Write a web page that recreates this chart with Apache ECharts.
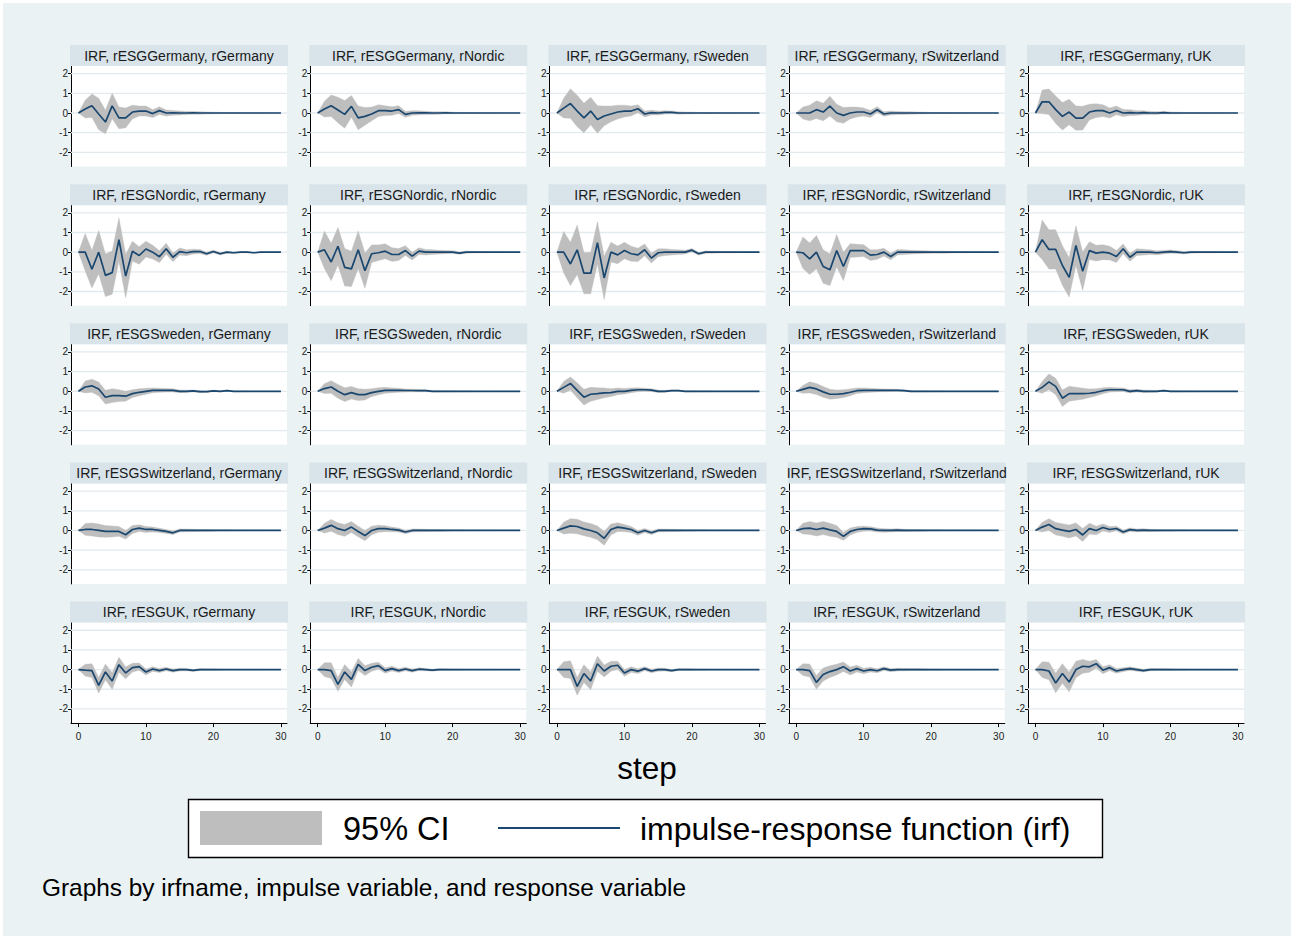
<!DOCTYPE html>
<html>
<head>
<meta charset="utf-8">
<script src="https://cdn.jsdelivr.net/npm/echarts@6/dist/echarts.min.js"></script>
<style>
  html, body { margin: 0; padding: 0; background: #ffffff; }
  #wrap { position: absolute; left: 0; top: 0; width: 1294px; height: 938px; background: #ffffff; }
  #bg { position: absolute; left: 3px; top: 3px; width: 1288px; height: 933px; background: #eaf2f3; }
  #chart { position: absolute; left: 0; top: 0; width: 1294px; height: 938px; }
</style>
</head>
<body>
<div id="wrap"><div id="bg"></div><div id="chart"></div></div>
<script>
// ---------------- data ----------------
const impulses = ['rESGGermany', 'rESGNordic', 'rESGSweden', 'rESGSwitzerland', 'rESGUK'];
const responses = ['rGermany', 'rNordic', 'rSweden', 'rSwitzerland', 'rUK'];
const steps = [0,1,2,3,4,5,6,7,8,9,10,11,12,13,14,15,16,17,18,19,20,21,22,23,24,25,26,27,28,29,30];
const xTickLabels = [0, 10, 20, 30];
const yTickLabels = [-2, -1, 0, 1, 2];
const irfName = 'IRF';
const legendCI = '95% CI';
const legendIRF = 'impulse-response function (irf)';
const xAxisTitle = 'step';
const noteText = 'Graphs by irfname, impulse variable, and response variable';

// impulse rESGGermany
const irf_Germany_Germany = [0,0.2,0.37,-0.05,-0.46,0.36,-0.25,-0.25,0.05,0.1,0.1,-0.03,0.12,0,0.01,0,0,0.01,0,0,0,0,0,0,0,0,0,0,0,0,0];
const ci_Germany_Germany  = [0,0.45,0.6,0.8,0.6,0.65,0.55,0.5,0.35,0.25,0.25,0.2,0.2,0.15,0.12,0.1,0.08,0.07,0.06,0.05,0.04,0.03,0.02,0.02,0.01,0.01,0.01,0.01,0,0,0];
const irf_Germany_Nordic = [0,0.2,0.37,0.15,-0.07,0.34,-0.25,-0.17,-0.05,0.12,0.12,0.1,0.17,-0.07,0,0.01,0.01,0,0,0.01,0,0,0,0,0,0,0,0,0,0,0];
const ci_Germany_Nordic  = [0,0.4,0.55,0.65,0.7,0.55,0.6,0.45,0.35,0.3,0.25,0.22,0.2,0.15,0.12,0.1,0.08,0.07,0.06,0.05,0.04,0.03,0.02,0.02,0.01,0.01,0.01,0,0,0,0];
const irf_Germany_Sweden = [0,0.25,0.48,0.1,-0.25,0.1,-0.33,-0.15,-0.05,0.05,0.1,0.1,0.22,-0.05,0.02,0,0.03,0.03,0,0,0,0,0,0,0,0,0,0,0,0,0];
const ci_Germany_Sweden  = [0,0.5,0.75,0.8,0.75,0.7,0.7,0.5,0.4,0.35,0.3,0.25,0.2,0.15,0.12,0.1,0.08,0.07,0.06,0.05,0.04,0.03,0.02,0.02,0.01,0.01,0.01,0,0,0,0];
const irf_Germany_Switzerland = [0,0,0,0.17,0.05,0.35,0,-0.12,0,0.05,0.05,-0.05,0.17,-0.05,0,0,0,0,0,0,0,0,0,0,0,0,0,0,0,0,0];
const ci_Germany_Switzerland  = [0,0.3,0.4,0.45,0.45,0.5,0.45,0.4,0.3,0.25,0.2,0.18,0.15,0.12,0.1,0.08,0.07,0.06,0.05,0.04,0.03,0.02,0.02,0.01,0.01,0.01,0,0,0,0,0];
const irf_Germany_UK = [0,0.57,0.57,0.17,-0.17,0.05,-0.26,-0.26,0.05,0.12,0.12,0,0.13,0,0.02,0,0.02,0,0,0.02,0,0,0,0,0,0,0,0,0,0,0];
const ci_Germany_UK  = [0,0.6,0.65,0.7,0.7,0.65,0.62,0.6,0.4,0.35,0.3,0.25,0.22,0.18,0.15,0.12,0.1,0.08,0.07,0.06,0.05,0.04,0.03,0.02,0.02,0.01,0.01,0.01,0,0,0];

// impulse rESGNordic
const irf_Nordic_Germany = [0,0,-0.87,0,-1.18,-1.04,0.64,-1.22,0.05,-0.17,0.16,0,-0.23,0.17,-0.26,0.03,-0.03,0.03,0.03,-0.08,0.03,-0.08,0,-0.03,0,0,-0.03,0,0,0,0];
const ci_Nordic_Germany  = [0,0.95,0.95,1.1,1.08,1.1,1.1,1.1,0.5,0.45,0.4,0.35,0.3,0.28,0.22,0.18,0.15,0.12,0.1,0.08,0.07,0.06,0.05,0.04,0.03,0.03,0.02,0.02,0.01,0.01,0.01];
const irf_Nordic_Nordic = [0,0.12,-0.5,0.3,-0.77,-0.85,0.12,-0.94,-0.08,-0.03,0.05,-0.12,-0.12,0.08,-0.2,0.05,0,0,0,0,0,-0.05,0,0,0,0,0,0,0,0,0];
const ci_Nordic_Nordic  = [0,0.95,0.95,0.95,0.95,0.9,0.95,0.9,0.45,0.4,0.38,0.35,0.3,0.25,0.2,0.17,0.14,0.12,0.1,0.08,0.07,0.06,0.05,0.04,0.03,0.03,0.02,0.02,0.01,0.01,0.01];
const irf_Nordic_Sweden = [0,0,-0.6,0.12,-1.07,-1.07,0.48,-1.31,0,-0.14,0.08,-0.08,-0.14,0.12,-0.3,-0.03,0,0,0,0,0.1,-0.08,0,0,0,0,0,0,0,0,0];
const ci_Nordic_Sweden  = [0,1.05,1.1,1.25,1.05,1.05,1.07,1.1,0.5,0.45,0.42,0.38,0.34,0.3,0.25,0.2,0.17,0.14,0.12,0.1,0.08,0.07,0.06,0.05,0.04,0.03,0.03,0.02,0.02,0.01,0.01];
const irf_Nordic_Switzerland = [0,-0.03,-0.34,0,-0.73,-0.9,0.08,-0.73,0.08,0.08,0.08,-0.15,-0.12,0,-0.22,0,0,0,0,0,0,0,0,0,0,0,0,0,0,0,0];
const ci_Nordic_Switzerland  = [0,0.8,0.8,0.85,0.85,0.8,0.82,0.72,0.35,0.32,0.3,0.27,0.24,0.2,0.17,0.14,0.12,0.1,0.08,0.07,0.06,0.05,0.05,0.04,0.03,0.03,0.02,0.02,0.01,0.01,0.01];
const irf_Nordic_UK = [0,0.63,0.14,0.14,-0.68,-1.28,0.34,-0.97,0.08,-0.05,0,-0.05,-0.22,0.17,-0.26,0,0,0,-0.03,0,0.03,0,-0.03,0,0,0,0,0,0,0,0];
const ci_Nordic_UK  = [0,1.0,1.0,1.0,1.0,1.0,1.0,0.98,0.45,0.4,0.38,0.35,0.3,0.25,0.2,0.17,0.15,0.12,0.1,0.09,0.08,0.07,0.06,0.05,0.04,0.03,0.03,0.02,0.02,0.01,0.01];

// impulse rESGSweden
const irf_Sweden_Germany = [0,0.22,0.28,0.12,-0.3,-0.22,-0.22,-0.25,-0.12,-0.05,0,0.05,0.05,0.05,0.05,0,0,0.02,-0.02,-0.02,0.02,0,0.03,0,0,0,0,0,0,0,0];
const ci_Sweden_Germany  = [0,0.3,0.33,0.35,0.35,0.35,0.3,0.25,0.2,0.18,0.15,0.12,0.1,0.09,0.08,0.07,0.06,0.05,0.05,0.04,0.04,0.03,0.03,0.02,0.02,0.01,0.01,0.01,0,0,0];
const irf_Sweden_Nordic = [0,0.14,0.22,0,-0.17,-0.07,-0.17,-0.17,-0.07,0,0.05,0.05,0.05,0.04,0.04,0.03,0.03,0,0,0,0,0,0,0,0,0,0,0,0,0,0];
const ci_Sweden_Nordic  = [0,0.25,0.32,0.35,0.35,0.32,0.3,0.27,0.2,0.18,0.15,0.12,0.1,0.08,0.07,0.06,0.05,0.04,0.04,0.03,0.03,0.02,0.02,0.01,0.01,0.01,0,0,0,0,0];
const irf_Sweden_Sweden = [0,0.2,0.4,0.05,-0.3,-0.15,-0.12,-0.08,-0.07,0,0,0.05,0.08,0.08,0.06,0,0,0.03,0.03,0,0,0,0,0,0,0,0,0,0,0,0];
const ci_Sweden_Sweden  = [0,0.3,0.33,0.38,0.4,0.35,0.3,0.25,0.2,0.17,0.14,0.12,0.1,0.08,0.07,0.06,0.05,0.04,0.04,0.03,0.03,0.02,0.02,0.01,0.01,0.01,0,0,0,0,0];
const irf_Sweden_Switzerland = [0,0.1,0.2,0.12,-0.03,-0.15,-0.15,-0.12,-0.05,0.03,0.05,0.05,0.05,0.05,0.05,0.05,0.03,0,0,0,0,0,0,0,0,0,0,0,0,0,0];
const ci_Sweden_Switzerland  = [0,0.2,0.28,0.28,0.27,0.25,0.22,0.2,0.17,0.14,0.12,0.1,0.08,0.07,0.06,0.05,0.04,0.04,0.03,0.03,0.02,0.02,0.01,0.01,0.01,0,0,0,0,0,0];
const irf_Sweden_UK = [0,0.2,0.48,0.25,-0.35,-0.12,-0.12,-0.12,-0.1,-0.05,0.03,0.08,0.08,0.08,0,0.03,0,0,0,0.03,0,0,0,0,0,0,0,0,0,0,0];
const ci_Sweden_UK  = [0,0.3,0.4,0.42,0.42,0.38,0.33,0.28,0.22,0.18,0.15,0.12,0.1,0.09,0.08,0.07,0.06,0.05,0.04,0.04,0.03,0.03,0.02,0.02,0.01,0.01,0.01,0,0,0,0];

// impulse rESGSwitzerland
const irf_Switzerland_Germany = [0,0.05,0.05,0,-0.05,-0.05,-0.05,-0.22,0.05,0.12,0.05,0.05,0,-0.05,-0.12,0,0,0,0,0,0,0,0,0,0,0,0,0,0,0,0];
const ci_Switzerland_Germany  = [0,0.3,0.33,0.33,0.3,0.28,0.25,0.22,0.2,0.17,0.15,0.13,0.11,0.1,0.09,0.08,0.07,0.06,0.05,0.05,0.04,0.03,0.03,0.02,0.02,0.01,0.01,0.01,0,0,0];
const irf_Switzerland_Nordic = [0,0.12,0.26,0.09,0,0.17,-0.05,-0.26,0,0.09,0.09,0.05,0.02,-0.08,0,0,0,0,0,0,0,0,0,0,0,0,0,0,0,0,0];
const ci_Switzerland_Nordic  = [0,0.25,0.3,0.3,0.3,0.28,0.27,0.26,0.22,0.18,0.15,0.12,0.1,0.09,0.08,0.07,0.06,0.05,0.05,0.04,0.03,0.03,0.02,0.02,0.01,0.01,0.01,0,0,0,0];
const irf_Switzerland_Sweden = [0,0.12,0.23,0.2,0.08,0,-0.12,-0.4,0.05,0.17,0.12,0.05,-0.12,0,-0.12,0,0,0,0,0,0,0,0,0,0,0,0,0,0,0,0];
const ci_Switzerland_Sweden  = [0,0.3,0.37,0.37,0.35,0.35,0.35,0.35,0.28,0.22,0.18,0.15,0.12,0.1,0.09,0.08,0.07,0.06,0.05,0.04,0.04,0.03,0.03,0.02,0.02,0.01,0.01,0.01,0,0,0];
const irf_Switzerland_Switzerland = [0,0.09,0.12,0.05,0.12,0.03,-0.05,-0.3,-0.05,0.05,0.09,0.08,0.02,0,0,0.02,0,0,0,0,0,0,0,0,0,0,0,0,0,0,0];
const ci_Switzerland_Switzerland  = [0,0.27,0.33,0.33,0.33,0.33,0.3,0.2,0.18,0.15,0.13,0.11,0.1,0.09,0.08,0.07,0.06,0.05,0.05,0.04,0.03,0.03,0.02,0.02,0.01,0.01,0.01,0,0,0,0];
const irf_Switzerland_UK = [0,0.17,0.3,0.09,0.02,-0.05,0.05,-0.23,0.09,0,0.15,0.05,0.1,-0.08,0.04,0,0.02,0,0,0,0,0,0,0,0,0,0,0,0,0,0];
const ci_Switzerland_UK  = [0,0.25,0.3,0.32,0.32,0.33,0.33,0.33,0.27,0.22,0.18,0.15,0.12,0.1,0.09,0.08,0.07,0.06,0.05,0.04,0.04,0.03,0.03,0.02,0.02,0.01,0.01,0.01,0,0,0];

// impulse rESGUK
const irf_UK_Germany = [0,-0.03,-0.05,-0.8,-0.12,-0.58,0.25,-0.17,0.1,0.15,-0.12,0.03,-0.05,0.03,-0.05,0,0,-0.04,0,0,0,0,0,0,0,0,0,0,0,0,0];
const ci_UK_Germany  = [0,0.3,0.35,0.4,0.4,0.42,0.38,0.3,0.22,0.18,0.15,0.12,0.1,0.09,0.08,0.07,0.06,0.05,0.05,0.04,0.04,0.03,0.02,0.02,0.01,0.01,0.01,0,0,0,0];
const irf_UK_Nordic = [0,0,-0.05,-0.75,-0.12,-0.5,0.27,-0.05,0.12,0.2,-0.05,0.05,-0.05,0.03,-0.05,0.02,0,-0.03,0,0,0,0,0,0,0,0,0,0,0,0,0];
const ci_UK_Nordic  = [0,0.35,0.4,0.35,0.38,0.38,0.3,0.25,0.2,0.17,0.14,0.12,0.1,0.09,0.08,0.07,0.06,0.05,0.05,0.04,0.03,0.03,0.02,0.02,0.01,0.01,0.01,0,0,0,0];
const irf_UK_Sweden = [0,0,0,-0.85,-0.2,-0.58,0.3,-0.07,0.17,0.22,-0.17,0,-0.08,0.05,-0.07,0,0,-0.05,0,0,0,0,0,0,0,0,0,0,0,0,0];
const ci_UK_Sweden  = [0,0.4,0.45,0.45,0.45,0.45,0.38,0.3,0.25,0.2,0.17,0.14,0.12,0.1,0.09,0.08,0.07,0.06,0.05,0.05,0.04,0.03,0.03,0.02,0.02,0.01,0.01,0.01,0,0,0];
const irf_UK_Switzerland = [0,0,-0.05,-0.65,-0.25,-0.1,0,0.15,-0.07,0.05,-0.07,0,-0.06,0.05,-0.03,0,0,0,0,0,0,0,0,0,0,0,0,0,0,0,0];
const ci_UK_Switzerland  = [0,0.3,0.33,0.35,0.33,0.3,0.27,0.24,0.2,0.17,0.14,0.12,0.1,0.09,0.08,0.07,0.06,0.05,0.05,0.04,0.03,0.03,0.02,0.02,0.01,0.01,0.01,0,0,0,0];
const irf_UK_UK = [0,0,-0.07,-0.68,-0.2,-0.63,0,0.17,0.14,0.3,-0.03,0.1,-0.07,0,0.05,0,-0.05,0,0,0,0,0,0,0,0,0,0,0,0,0,0];
const ci_UK_UK  = [0,0.4,0.45,0.5,0.5,0.5,0.42,0.35,0.28,0.22,0.18,0.15,0.12,0.1,0.09,0.08,0.07,0.06,0.05,0.05,0.04,0.03,0.03,0.02,0.02,0.01,0.01,0.01,0,0,0];

// ---------------- lookup tables ----------------
const IRF = [
  [irf_Germany_Germany, irf_Germany_Nordic, irf_Germany_Sweden, irf_Germany_Switzerland, irf_Germany_UK],
  [irf_Nordic_Germany, irf_Nordic_Nordic, irf_Nordic_Sweden, irf_Nordic_Switzerland, irf_Nordic_UK],
  [irf_Sweden_Germany, irf_Sweden_Nordic, irf_Sweden_Sweden, irf_Sweden_Switzerland, irf_Sweden_UK],
  [irf_Switzerland_Germany, irf_Switzerland_Nordic, irf_Switzerland_Sweden, irf_Switzerland_Switzerland, irf_Switzerland_UK],
  [irf_UK_Germany, irf_UK_Nordic, irf_UK_Sweden, irf_UK_Switzerland, irf_UK_UK]
];
const CIH = [
  [ci_Germany_Germany, ci_Germany_Nordic, ci_Germany_Sweden, ci_Germany_Switzerland, ci_Germany_UK],
  [ci_Nordic_Germany, ci_Nordic_Nordic, ci_Nordic_Sweden, ci_Nordic_Switzerland, ci_Nordic_UK],
  [ci_Sweden_Germany, ci_Sweden_Nordic, ci_Sweden_Sweden, ci_Sweden_Switzerland, ci_Sweden_UK],
  [ci_Switzerland_Germany, ci_Switzerland_Nordic, ci_Switzerland_Sweden, ci_Switzerland_Switzerland, ci_Switzerland_UK],
  [ci_UK_Germany, ci_UK_Nordic, ci_UK_Sweden, ci_UK_Switzerland, ci_UK_UK]
];

// ---------------- styling / layout ----------------
const FONT = '"Liberation Sans", Arial, sans-serif';
const NAVY = '#1a476f';
const CI_GREY = '#bebebe';
const STRIP = '#d8e4ea';
const GRIDLINE = '#e2eaee';
const P_LEFT = 71, P_TOP = 66, P_W = 216, P_H = 100.5, COL_STEP = 239.25, ROW_STEP = 139.15;

const chart = echarts.init(document.getElementById('chart'), null, { renderer: 'svg' });

function bandRender(params, api) {
  if (params.dataIndexInside !== 0) return null;
  const n = params.dataInsideLength;
  const pts = [];
  for (let j = 0; j < n; j++) pts.push(api.coord([api.value(0, j), api.value(2, j)]));
  for (let j = n - 1; j >= 0; j--) pts.push(api.coord([api.value(0, j), api.value(1, j)]));
  return { type: 'polygon', shape: { points: pts }, style: { fill: CI_GREY, stroke: CI_GREY, lineWidth: 0.4 } };
}

function gridLineRender(params, api) {
  const cs = params.coordSys;
  const y = api.coord([0, api.value(0)])[1];
  return { type: 'line', shape: { x1: cs.x, y1: y, x2: cs.x + cs.width, y2: y }, style: { stroke: GRIDLINE, lineWidth: 1.3 } };
}

const grids = [], xAxes = [], yAxes = [], series = [], graphics = [];
for (let r = 0; r < 5; r++) {
  for (let c = 0; c < 5; c++) {
    const idx = r * 5 + c;
    const left = P_LEFT + c * COL_STEP, top = P_TOP + r * ROW_STEP;
    const bottomRow = (r === 4);
    grids.push({ left: left, top: top, width: P_W, height: P_H, show: true, backgroundColor: '#ffffff', borderWidth: 0, containLabel: false });
    xAxes.push({
      type: 'value', gridIndex: idx, min: -1.1, max: 30.9,
      axisLine: { show: bottomRow, onZero: false, lineStyle: { color: '#000', width: 1 } },
      axisTick: { show: bottomRow, customValues: xTickLabels, length: 4, lineStyle: { color: '#000', width: 1 } },
      axisLabel: { show: bottomRow, customValues: xTickLabels, fontSize: 10, fontFamily: FONT, color: '#222', margin: 8 },
      splitLine: { show: false }
    });
    yAxes.push({
      type: 'value', gridIndex: idx, min: -2.72, max: 2.39,
      axisLine: { show: true, onZero: false, lineStyle: { color: '#000', width: 1 } },
      axisTick: { show: true, customValues: yTickLabels, length: 3, lineStyle: { color: '#000', width: 1 } },
      axisLabel: { show: true, customValues: yTickLabels, fontSize: 10, fontFamily: FONT, color: '#222', margin: 3 },
      splitLine: { show: false }
    });
    const irf = IRF[r][c], half = CIH[r][c];
    series.push({
      type: 'custom', xAxisIndex: idx, yAxisIndex: idx, z: 1, silent: true, animation: false,
      renderItem: gridLineRender, encode: { y: 0 },
      data: yTickLabels.map(v => [v])
    });
    series.push({
      name: legendCI, type: 'custom', xAxisIndex: idx, yAxisIndex: idx, z: 2, silent: true, animation: false,
      renderItem: bandRender, encode: { x: 0, y: [1, 2] },
      data: steps.map((s, i) => [s, irf[i] - half[i], irf[i] + half[i]])
    });
    series.push({
      name: legendIRF, type: 'line', xAxisIndex: idx, yAxisIndex: idx, z: 3, silent: true, animation: false,
      symbol: 'none', showSymbol: false,
      lineStyle: { color: NAVY, width: 1.7 },
      data: steps.map((s, i) => [s, irf[i]])
    });
    graphics.push({ type: 'rect', z: 10, silent: true, shape: { x: left - 1, y: top - 21, width: P_W + 2, height: 21 }, style: { fill: STRIP } });
    graphics.push({ type: 'text', z: 11, silent: true, x: left + P_W / 2, y: top - 10.5,
      style: { text: irfName + ', ' + impulses[r] + ', ' + responses[c], font: '14px ' + FONT, fill: '#1a1a1a',
               align: 'center', verticalAlign: 'middle', textAlign: 'center', textVerticalAlign: 'middle' } });
  }
}

// axis title
graphics.push({ type: 'text', z: 11, silent: true, x: 647, y: 768,
  style: { text: xAxisTitle, font: '31.5px ' + FONT, fill: '#000', align: 'center', verticalAlign: 'middle', textAlign: 'center', textVerticalAlign: 'middle' } });
// legend box
graphics.push({ type: 'rect', z: 10, silent: true, shape: { x: 188.5, y: 799.5, width: 914, height: 58 }, style: { fill: '#ffffff', stroke: '#000', lineWidth: 1.4 } });
graphics.push({ type: 'rect', z: 11, silent: true, shape: { x: 200, y: 811, width: 122, height: 34 }, style: { fill: CI_GREY } });
graphics.push({ type: 'text', z: 11, silent: true, x: 343, y: 829,
  style: { text: legendCI, font: '32.5px ' + FONT, fill: '#000', align: 'left', verticalAlign: 'middle', textAlign: 'left', textVerticalAlign: 'middle' } });
graphics.push({ type: 'line', z: 11, silent: true, shape: { x1: 498, y1: 828, x2: 620, y2: 828 }, style: { stroke: NAVY, lineWidth: 2 } });
graphics.push({ type: 'text', z: 11, silent: true, x: 640, y: 829,
  style: { text: legendIRF, font: '32px ' + FONT, fill: '#000', align: 'left', verticalAlign: 'middle', textAlign: 'left', textVerticalAlign: 'middle' } });
// note
graphics.push({ type: 'text', z: 11, silent: true, x: 42, y: 887,
  style: { text: noteText, font: '24.4px ' + FONT, fill: '#000', align: 'left', verticalAlign: 'middle', textAlign: 'left', textVerticalAlign: 'middle' } });

chart.setOption({
  animation: false,
  backgroundColor: 'transparent',
  grid: grids,
  xAxis: xAxes,
  yAxis: yAxes,
  series: series,
  graphic: { elements: graphics }
});
</script>
</body>
</html>
